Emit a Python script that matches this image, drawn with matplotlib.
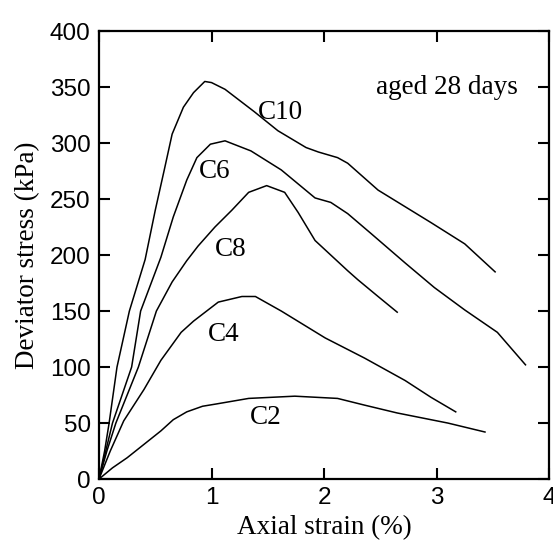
import matplotlib.pyplot as plt

# strain (%) / deviator stress (kPa)
c10_x = [0, 0.05, 0.09, 0.16, 0.27, 0.41, 0.50, 0.58, 0.65, 0.75, 0.84, 0.94, 1.00, 1.12,
         1.38, 1.59, 1.84, 1.95, 2.12, 2.21, 2.48, 2.95, 3.25, 3.52]
c10_y = [0, 25, 50, 100, 150, 196, 240, 276, 308, 332, 345, 355, 354, 348,
         328, 311, 296, 292, 287, 282, 258, 229, 210, 185]

c6_x = [0, 0.06, 0.12, 0.29, 0.37, 0.55, 0.66, 0.78, 0.87, 0.99, 1.12, 1.35, 1.62, 1.92,
        2.06, 2.21, 2.42, 2.72, 2.98, 3.25, 3.54, 3.79]
c6_y = [0, 25, 50, 100, 150, 198, 234, 267, 287, 299, 302, 293, 276, 251,
        247, 237, 219, 193, 171, 151, 131, 102]

c8_x = [0, 0.07, 0.15, 0.35, 0.51, 0.65, 0.78, 0.88, 1.03, 1.18, 1.33, 1.49, 1.65, 1.77,
        1.92, 2.21, 2.30, 2.48, 2.65]
c8_y = [0, 25, 50, 100, 150, 176, 195, 208, 225, 240, 256, 262, 256, 238,
        213, 186, 178, 163, 149]

c4_x = [0, 0.10, 0.22, 0.40, 0.55, 0.73, 0.84, 1.06, 1.27, 1.39, 1.62, 2.01, 2.36, 2.72, 2.95, 3.17]
c4_y = [0, 25, 52, 80, 106, 131, 141, 158, 163, 163, 150, 126, 108, 88, 73, 60]

c2_x = [0, 0.12, 0.25, 0.40, 0.55, 0.66, 0.78, 0.92, 1.04, 1.33, 1.74, 2.12, 2.36, 2.65, 3.10, 3.43]
c2_y = [0, 10, 19, 31, 43, 53, 60, 65, 67, 72, 74, 72, 66, 59, 50, 42]

labels = ['C10', 'C6', 'C8', 'C4', 'C2']
label_x = [1.61, 1.03, 1.17, 1.11, 1.48]
label_y = [327, 275, 205, 129, 55]

serif = 'Liberation Serif'
sans = 'Liberation Sans'

fig = plt.figure(figsize=(5.53, 5.45), dpi=100)
ax = fig.add_axes([0.179, 0.121, 0.814, 0.822])

for xs, ys in [(c10_x, c10_y), (c6_x, c6_y), (c8_x, c8_y), (c4_x, c4_y), (c2_x, c2_y)]:
    ax.plot(xs, ys, color='black', lw=1.1)

for t, x, y in zip(labels, label_x, label_y):
    ax.text(x, y, t, family=serif, fontsize=19.5, ha='center', va='center')

ax.text(3.09, 350, 'aged 28 days', family=serif, fontsize=19.5, ha='center', va='center')

ax.set_xlim(0, 4)
ax.set_ylim(0, 400)
ax.set_xticks([0, 1, 2, 3, 4])
ax.set_yticks(range(0, 401, 50))
ax.tick_params(direction='in', length=8, width=1.5, top=True, right=True, pad=6)
for lab in ax.get_xticklabels() + ax.get_yticklabels():
    lab.set_family(sans)
    lab.set_fontsize(17.5)
for s in ax.spines.values():
    s.set_linewidth(1.6)

ax.set_xlabel('Axial strain (%)', family=serif, fontsize=19.5, labelpad=4)
ax.set_ylabel('Deviator stress (kPa)', family=serif, fontsize=19.5, labelpad=7)

fig.savefig('out.png', dpi=100)
